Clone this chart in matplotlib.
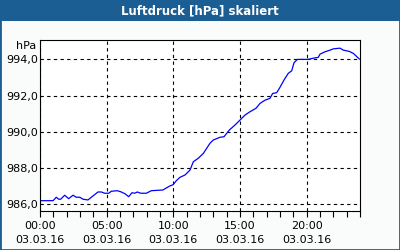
import matplotlib
matplotlib.use("Agg")
import matplotlib.pyplot as plt
from matplotlib.patches import Rectangle

title = "Luftdruck [hPa] skaliert"
unit = "hPa"
hours = [0.05, 0.98, 1.22, 1.40, 1.55, 1.85, 2.15, 2.48, 2.72, 2.98, 3.23, 3.60, 3.85,
         4.35, 4.60, 4.85, 5.15, 5.35, 5.80, 6.10, 6.40, 6.65, 6.90, 7.10, 7.30, 7.55,
         7.97, 8.35, 9.22, 9.47, 9.73, 9.98, 10.22, 10.50, 10.88, 11.25, 11.50, 11.87,
         12.25, 12.75, 13.00, 13.50, 13.80, 14.20, 14.63, 15.00, 15.38, 15.75, 16.20,
         16.50, 16.88, 17.25, 17.45, 17.75, 18.00, 18.30, 18.62, 18.88, 19.05, 19.30,
         20.12, 20.45, 20.87, 21.00, 21.38, 21.75, 22.00, 22.50, 22.75, 23.20, 23.50, 23.95]
pressure = [986.20, 986.20, 986.39, 986.28, 986.28, 986.50, 986.31, 986.50, 986.39, 986.39,
            986.28, 986.24, 986.39, 986.68, 986.68, 986.61, 986.61, 986.72, 986.75, 986.68,
            986.57, 986.42, 986.64, 986.61, 986.68, 986.61, 986.61, 986.75, 986.79, 986.90,
            987.01, 987.08, 987.30, 987.49, 987.62, 987.89, 988.35, 988.54, 988.81, 989.37,
            989.55, 989.70, 989.73, 990.10, 990.38, 990.65, 990.93, 991.11, 991.30, 991.57,
            991.75, 991.85, 992.12, 992.16, 992.46, 992.86, 993.23, 993.37, 993.81, 994.00,
            994.00, 994.06, 994.11, 994.29, 994.42, 994.51, 994.58, 994.62, 994.51, 994.44,
            994.33, 994.02]
x_ticks = [0, 5, 10, 15, 20]
x_labels = ["00:00\n03.03.16", "05:00\n03.03.16", "10:00\n03.03.16",
            "15:00\n03.03.16", "20:00\n03.03.16"]
y_ticks = [986, 988, 990, 992, 994]
y_labels = ["986,0", "988,0", "990,0", "992,0", "994,0"]

W, H = 400, 250
fig = plt.figure(figsize=(4, 2.5), dpi=100)
fig.patch.set_facecolor("#F9FCFA")
blue = "#1B5E94"
# border and title bar
fig.patches.append(Rectangle((0, 0), 1, 1, transform=fig.transFigure, fill=False,
                             edgecolor=blue, linewidth=2.0))
fig.patches.append(Rectangle((0, 1 - 21 / H), 1, 21 / H, transform=fig.transFigure,
                             facecolor=blue, edgecolor="none"))
fig.text(0.5, 1 - 10.5 / H, title, color="white", fontsize=8.5, fontweight="bold",
         ha="center", va="center")

ax = fig.add_axes([40 / W, 1 - 211 / H, 320 / W, 171 / H])
ax.set_facecolor("white")
ax.plot(hours, pressure, color="#0000FF", linewidth=0.9)
ax.set_xlim(0, 24)
ax.set_ylim(985.63, 995.07)
ax.set_xticks(x_ticks)
ax.set_xticklabels(x_labels, fontsize=8, linespacing=1.45)
ax.set_xticks(range(0, 25), minor=True)
ax.set_yticks(y_ticks)
ax.set_yticklabels(y_labels, fontsize=8)
ax.tick_params(axis="x", which="both", direction="out", length=4, width=0.8, pad=3.5)
ax.tick_params(axis="y", which="both", length=0, pad=1.5)
ax.grid(True, color="black", linestyle=(0, (3, 3)), linewidth=0.8)
for s in ax.spines.values():
    s.set_linewidth(0.8)
fig.text(36 / W, 1 - 46 / H, unit, fontsize=8, ha="right", va="center")

fig.savefig("out.png", dpi=100, facecolor=fig.get_facecolor())
